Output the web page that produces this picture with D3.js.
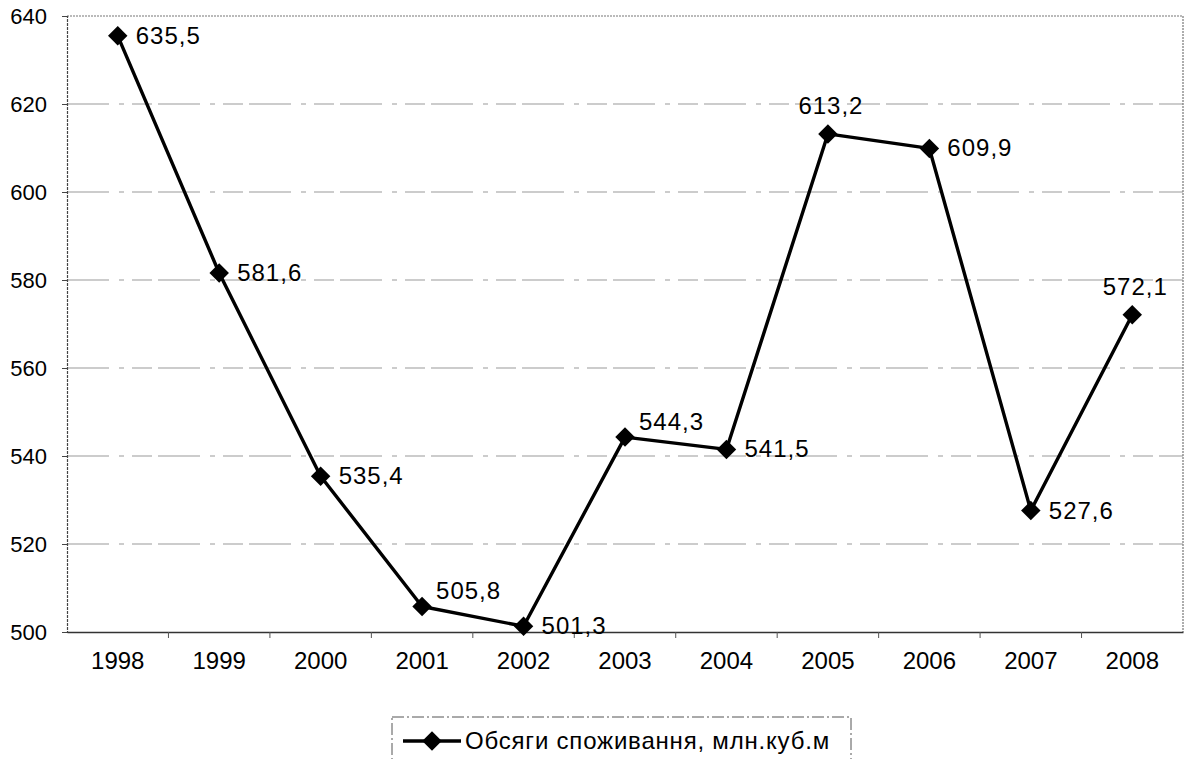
<!DOCTYPE html>
<html>
<head>
<meta charset="utf-8">
<script src="https://cdn.jsdelivr.net/npm/d3@7"></script>
<style>
  html, body { margin: 0; padding: 0; background: #fff; }
  svg { display: block; font-family: "Liberation Sans", Arial, sans-serif; }
</style>
</head>
<body>
<svg id="chart" width="1185" height="759"></svg>
<script>
// Annual consumption volumes, million cubic metres
const years = ["1998", "1999", "2000", "2001", "2002", "2003", "2004", "2005", "2006", "2007", "2008"];
const consumption = [635.5, 581.6, 535.4, 505.8, 501.3, 544.3, 541.5, 613.2, 609.9, 527.6, 572.1];
const yTicks = [500, 520, 540, 560, 580, 600, 620, 640];
// where each value label sits relative to its marker
const labelPlacement = ["right", "right", "right", "upright", "right", "upright", "right", "above", "right", "right", "above"];
const seriesName = "Обсяги споживання, млн.куб.м";

const svg = d3.select("#chart");
const plot = { left: 67, right: 1183, top: 16, bottom: 632 };

const x = d3.scaleBand().domain(years).range([plot.left, plot.right]).padding(0);
const y = d3.scaleLinear().domain([500, 640]).range([plot.bottom, plot.top]);

const locale = d3.formatLocale({ decimal: ",", thousands: " ", grouping: [3], currency: ["", ""] });
const fmt = locale.format(".1f");

// horizontal gridlines
svg.append("g")
  .selectAll("line")
  .data(yTicks.filter(t => t > 500 && t < 640))
  .join("line")
  .attr("x1", plot.left).attr("x2", plot.right)
  .attr("y1", d => y(d)).attr("y2", d => y(d))
  .attr("stroke", "#999")
  .attr("stroke-width", 1)
  .attr("stroke-dasharray", "42 10 5 8 20 6");

// plot frame: top and right dotted
svg.append("path")
  .attr("d", `M${plot.left},${plot.top}H${plot.right}V${plot.bottom}`)
  .attr("fill", "none")
  .attr("stroke", "#777")
  .attr("stroke-width", 1.2)
  .attr("stroke-dasharray", "2 1");

// y axis
const yAxis = svg.append("g")
  .attr("transform", `translate(${plot.left},0)`)
  .call(d3.axisLeft(y).tickValues(yTicks).tickSize(5).tickPadding(15).tickFormat(d3.format("d")));
yAxis.select(".domain").attr("stroke", "#444").attr("stroke-width", 1.2).attr("stroke-dasharray", "3 1");
yAxis.selectAll(".tick line").attr("stroke", "#444");
yAxis.selectAll("text").attr("font-size", 22).attr("fill", "#000")
  .attr("font-family", "'Liberation Sans', Arial, sans-serif");

// x axis: category labels centred, tick marks on category boundaries
const xAxis = svg.append("g")
  .attr("transform", `translate(0,${plot.bottom})`)
  .call(d3.axisBottom(x).tickSize(0).tickPadding(20));
xAxis.select(".domain").attr("stroke", "#333").attr("stroke-width", 1.5);
xAxis.selectAll("text").attr("font-size", 24).attr("fill", "#000")
  .attr("font-family", "'Liberation Sans', Arial, sans-serif");
xAxis.selectAll(".boundary")
  .data(years.slice(1))
  .join("line")
  .attr("class", "boundary")
  .attr("x1", d => x(d)).attr("x2", d => x(d))
  .attr("y1", 0).attr("y2", 6)
  .attr("stroke", "#555");

const cx = d => x(d) + x.bandwidth() / 2;
const pts = years.map((yr, i) => ({ yr, v: consumption[i], place: labelPlacement[i] }));

// series line
svg.append("path")
  .datum(pts)
  .attr("fill", "none")
  .attr("stroke", "#000")
  .attr("stroke-width", 3.4)
  .attr("stroke-linejoin", "round")
  .attr("d", d3.line().x(d => cx(d.yr)).y(d => y(d.v)));

// diamond markers
const diamond = d3.symbol(d3.symbolSquare, 190);
svg.append("g")
  .selectAll("path")
  .data(pts)
  .join("path")
  .attr("d", diamond)
  .attr("transform", d => `translate(${cx(d.yr)},${y(d.v)}) rotate(45)`)
  .attr("fill", "#000");

// value labels
svg.append("g")
  .selectAll("text")
  .data(pts)
  .join("text")
  .attr("font-size", 24)
  .attr("letter-spacing", 1)
  .attr("fill", "#000")
  .attr("x", d => cx(d.yr) + (d.place === "right" ? 18 : d.place === "upright" ? 14 : 3))
  .attr("y", d => y(d.v) + (d.place === "right" ? 8 : d.place === "upright" ? -7 : -20))
  .attr("text-anchor", d => d.place === "above" ? "middle" : "start")
  .text(d => fmt(d.v));

// legend
const legend = svg.append("g").attr("transform", "translate(392,717)");
legend.append("rect")
  .attr("x", 0).attr("y", 0).attr("width", 459).attr("height", 60)
  .attr("fill", "#fff")
  .attr("stroke", "#555")
  .attr("stroke-width", 1)
  .attr("stroke-dasharray", "12 3 2 3");
legend.append("line")
  .attr("x1", 11).attr("x2", 69).attr("y1", 24).attr("y2", 24)
  .attr("stroke", "#000").attr("stroke-width", 3.4);
legend.append("path")
  .attr("d", diamond)
  .attr("transform", "translate(40,24) rotate(45)")
  .attr("fill", "#000");
legend.append("text")
  .attr("x", 73).attr("y", 32)
  .attr("font-size", 24)
  .attr("letter-spacing", 0.8)
  .attr("fill", "#000")
  .text(seriesName);
</script>
</body>
</html>
